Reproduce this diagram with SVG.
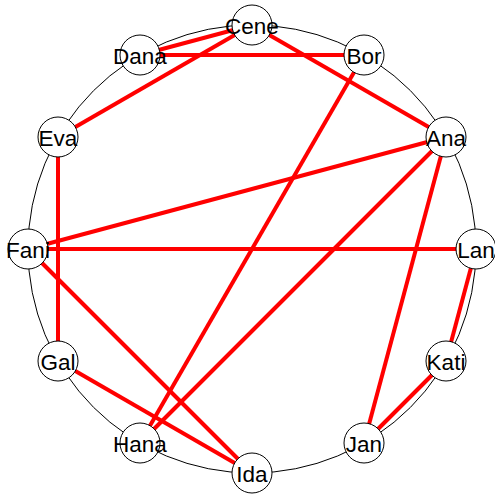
<svg xmlns="http://www.w3.org/2000/svg" width="495" height="497" viewBox="0 0 495 497">
<style>
.ring{fill:none;stroke:#000;stroke-width:1}
.e{stroke:#ff0000;stroke-width:4;fill:none}
.n circle{fill:#fff;stroke:#000;stroke-width:1}
.n text{font-family:"Liberation Sans",Arial,sans-serif;font-size:22.5px;fill:#000;text-anchor:middle}
</style>
<rect width="495" height="497" fill="#fff"/>
<circle class="ring" cx="252" cy="249" r="224"/>
<g id="edges">
<line class="e" x1="252" y1="25" x2="140" y2="55"/>
<line class="e" x1="252" y1="25" x2="58" y2="137"/>
<line class="e" x1="252" y1="25" x2="446" y2="137"/>
<line class="e" x1="140" y1="55" x2="364" y2="55"/>
<line class="e" x1="364" y1="55" x2="140" y2="443"/>
<line class="e" x1="446" y1="137" x2="28" y2="249"/>
<line class="e" x1="446" y1="137" x2="140" y2="443"/>
<line class="e" x1="446" y1="137" x2="364" y2="443"/>
<line class="e" x1="28" y1="249" x2="476" y2="249"/>
<line class="e" x1="28" y1="249" x2="252" y2="473"/>
<line class="e" x1="58" y1="137" x2="58" y2="361"/>
<line class="e" x1="58" y1="361" x2="252" y2="473"/>
<line class="e" x1="476" y1="249" x2="446" y2="361"/>
<line class="e" x1="446" y1="361" x2="364" y2="443"/>
</g>
<g id="Cene" class="n"><circle cx="252" cy="25" r="20"/><text x="252" y="33.5">Cene</text></g>
<g id="Bor" class="n"><circle cx="364" cy="55" r="20"/><text x="364" y="63.5">Bor</text></g>
<g id="Ana" class="n"><circle cx="446" cy="137" r="20"/><text x="446" y="145.5">Ana</text></g>
<g id="Lan" class="n"><circle cx="476" cy="249" r="20"/><text x="476" y="257.5">Lan</text></g>
<g id="Kati" class="n"><circle cx="446" cy="361" r="20"/><text x="446" y="369.5">Kati</text></g>
<g id="Jan" class="n"><circle cx="364" cy="443" r="20"/><text x="364" y="451.5">Jan</text></g>
<g id="Ida" class="n"><circle cx="252" cy="473" r="20"/><text x="252" y="481.5">Ida</text></g>
<g id="Hana" class="n"><circle cx="140" cy="443" r="20"/><text x="140" y="451.5">Hana</text></g>
<g id="Gal" class="n"><circle cx="58" cy="361" r="20"/><text x="58" y="369.5">Gal</text></g>
<g id="Fani" class="n"><circle cx="28" cy="249" r="20"/><text x="28" y="257.5">Fani</text></g>
<g id="Eva" class="n"><circle cx="58" cy="137" r="20"/><text x="58" y="145.5">Eva</text></g>
<g id="Dana" class="n"><circle cx="140" cy="55" r="20"/><text x="140" y="63.5">Dana</text></g>
</svg>
